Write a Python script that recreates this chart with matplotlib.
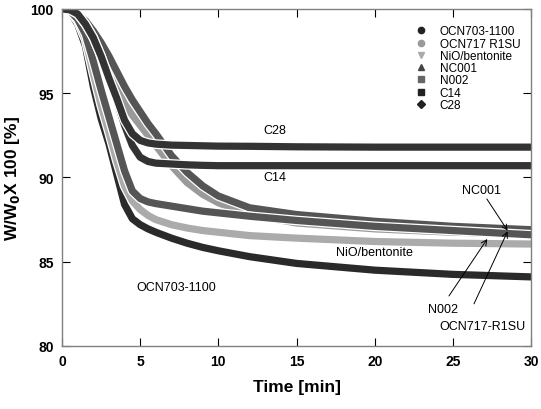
import matplotlib
matplotlib.use("Agg")
import matplotlib.pyplot as plt
import matplotlib.patheffects as pe

plt.rcParams['font.family'] = ['Liberation Sans', 'DejaVu Sans']

# time [min]
t = [0, 0.5, 1, 1.5, 2, 2.5, 3, 3.5, 4, 4.5, 5, 5.5, 6, 7, 8, 9, 10, 12, 15, 20, 25, 30]

# W/W0 x 100 [%]
ocn703 = [100, 99.85, 99.1, 97.8, 95.4, 93.5, 92.0, 90.2, 88.4, 87.55, 87.2, 86.95, 86.75, 86.4, 86.1, 85.85, 85.65, 85.3, 84.9, 84.5, 84.25, 84.1]
ocn717 = [100, 99.9, 99.6, 99.2, 98.5, 97.7, 96.6, 95.4, 94.4, 93.7, 93.1, 92.5, 91.9, 90.7, 89.7, 89.0, 88.5, 87.8, 87.3, 86.95, 86.75, 86.65]
nio = [100, 99.85, 99.3, 98.2, 96.2, 94.3, 92.7, 91.0, 89.5, 88.6, 88.1, 87.75, 87.5, 87.2, 87.0, 86.85, 86.75, 86.55, 86.4, 86.2, 86.1, 86.05]
nc001 = [100, 99.9, 99.7, 99.3, 98.7, 98.0, 97.2, 96.3, 95.4, 94.6, 93.9, 93.2, 92.6, 91.3, 90.3, 89.5, 88.9, 88.2, 87.8, 87.4, 87.1, 86.9]
n002 = [100, 99.9, 99.4, 98.5, 96.9, 95.2, 93.6, 92.0, 90.4, 89.2, 88.75, 88.55, 88.45, 88.3, 88.15, 88.0, 87.9, 87.7, 87.45, 87.1, 86.85, 86.6]
c14 = [100, 99.95, 99.7, 99.1, 98.3, 97.2, 95.9, 94.6, 93.1, 91.9, 91.2, 90.95, 90.85, 90.8, 90.75, 90.72, 90.7, 90.7, 90.7, 90.7, 90.7, 90.7]
c28 = [100, 99.95, 99.7, 99.1, 98.3, 97.2, 95.9, 94.7, 93.4, 92.6, 92.2, 92.05, 91.98, 91.92, 91.9, 91.88, 91.86, 91.85, 91.82, 91.8, 91.8, 91.8]

series = [ocn703, ocn717, nio, nc001, n002, c14, c28]
names = ['OCN703-1100', 'OCN717 R1SU', 'NiO/bentonite', 'NC001', 'N002', 'C14', 'C28']
colors = ['#2a2a2a', '#9a9a9a', '#ababab', '#555555', '#555555', '#333333', '#333333']
leg_colors = ['#222222', '#999999', '#aaaaaa', '#444444', '#666666', '#222222', '#222222']
markers = ['o', 'o', 'v', '^', 's', 's', 'D']

fig = plt.figure(figsize=(5.41, 4.10), dpi=100)
ax = fig.add_axes([0.1146, 0.1537, 0.867, 0.822])

outline = [pe.Stroke(linewidth=7, foreground='white'), pe.Normal()]
for y, c in zip(series, colors):
    ax.plot(t, y, color=c, lw=5.2, solid_capstyle='round', solid_joinstyle='round',
            path_effects=outline)

# legend handles (markers only)
for n, c, m in zip(names, leg_colors, markers):
    ax.plot([], [], ls='none', marker=m, color=c, markersize=4.5, label=n)
ax.legend(loc='upper right', frameon=False, fontsize=8.5, handletextpad=0.6,
          labelspacing=0.02, borderaxespad=0.0, bbox_to_anchor=(0.987, 0.965))

ax.set_xlim(0, 30)
ax.set_ylim(80, 100)
ax.set_xticks([0, 5, 10, 15, 20, 25, 30])
ax.set_yticks([80, 85, 90, 95, 100])
ax.tick_params(direction='in', top=True, right=True, length=6, width=0.8,
               labelsize=10, pad=6)
for lab in ax.get_xticklabels() + ax.get_yticklabels():
    lab.set_fontweight('bold')
for s in ax.spines.values():
    s.set_color('#808080')
    s.set_linewidth(1.0)

ax.set_xlabel('Time [min]', fontsize=12.5, fontweight='bold', labelpad=8)
ax.set_ylabel('W/W$_\\mathbf{0}$X 100 [%]', fontsize=12.5, fontweight='bold', labelpad=6)

# curve labels
fs = 9
ax.text(13.6, 92.8, 'C28', fontsize=fs, ha='center', va='center')
ax.text(13.6, 90.0, 'C14', fontsize=fs, ha='center', va='center')
ax.text(20.0, 85.6, 'NiO/bentonite', fontsize=fs, ha='center', va='center')
ax.text(7.3, 83.5, 'OCN703-1100', fontsize=fs, ha='center', va='center')
arr = dict(arrowstyle='->', color='black', lw=0.7, shrinkA=0, shrinkB=0)
ax.annotate('NC001', xy=(28.5, 86.85), xytext=(26.8, 89.25), fontsize=fs,
            ha='center', va='center', arrowprops=arr)
ax.annotate('', xy=(27.2, 86.35), xytext=(24.75, 82.97), arrowprops=arr)
ax.text(24.4, 82.2, 'N002', fontsize=fs, ha='center', va='center')
ax.annotate('', xy=(28.5, 86.8), xytext=(26.35, 82.5), arrowprops=arr)
ax.text(26.9, 81.2, 'OCN717-R1SU', fontsize=fs, ha='center', va='center')

fig.savefig('out.png', dpi=100)
